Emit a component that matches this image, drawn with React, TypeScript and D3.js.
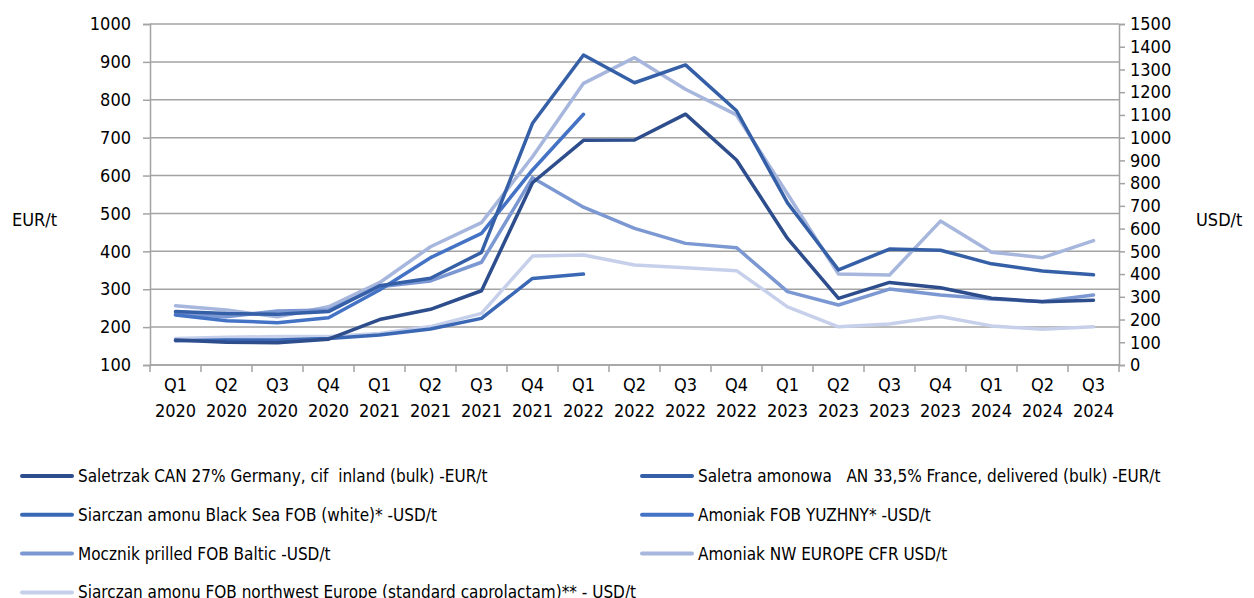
import React, { useEffect, useRef } from 'react';
import * as d3 from 'd3';

const quarters = ['Q1', 'Q2', 'Q3', 'Q4', 'Q1', 'Q2', 'Q3', 'Q4', 'Q1', 'Q2', 'Q3', 'Q4', 'Q1', 'Q2', 'Q3', 'Q4', 'Q1', 'Q2', 'Q3'];
const years = ['2020', '2020', '2020', '2020', '2021', '2021', '2021', '2021', '2022', '2022', '2022', '2022', '2023', '2023', '2023', '2023', '2024', '2024', '2024'];

// EUR/t, left axis
const canGermany = [166, 160, 159, 168, 220, 247, 296, 581, 693, 694, 762, 641, 434, 276, 318, 304, 276, 267, 271];
const anFrance = [241, 236, 234, 241, 309, 329, 397, 738, 918, 845, 892, 771, 528, 351, 406, 403, 367, 348, 338];
// USD/t, right axis
const asBlackSea = [107, 110, 110, 117, 132, 158, 205, 381, 400];
const nh3Yuzhny = [220, 195, 186, 208, 330, 472, 579, 858, 1103];
const ureaBaltic = [224, 212, 238, 242, 344, 370, 452, 824, 694, 601, 535, 516, 323, 264, 334, 308, 290, 279, 308];
const nh3NwEurope = [261, 242, 212, 256, 362, 520, 626, 916, 1239, 1352, 1213, 1100, 752, 400, 396, 633, 496, 472, 547];
const asNwEurope = [117, 122, 125, 125, 139, 169, 227, 479, 484, 440, 428, 415, 256, 168, 180, 213, 172, 157, 168];

const leftTicks = [100, 200, 300, 400, 500, 600, 700, 800, 900, 1000];
const rightTicks = [0, 100, 200, 300, 400, 500, 600, 700, 800, 900, 1000, 1100, 1200, 1300, 1400, 1500];

const series = [
  { name: 'Saletrzak CAN 27% Germany, cif  inland (bulk) -EUR/t', values: canGermany, axis: 'left', color: '#2d4d8c' },
  { name: 'Saletra amonowa   AN 33,5% France, delivered (bulk) -EUR/t', values: anFrance, axis: 'left', color: '#355fa6' },
  { name: 'Siarczan amonu Black Sea FOB (white)* -USD/t', values: asBlackSea, axis: 'right', color: '#3b68b5' },
  { name: 'Amoniak FOB YUZHNY* -USD/t', values: nh3Yuzhny, axis: 'right', color: '#4473c5' },
  { name: 'Mocznik prilled FOB Baltic -USD/t', values: ureaBaltic, axis: 'right', color: '#7c98d2' },
  { name: 'Amoniak NW EUROPE CFR USD/t', values: nh3NwEurope, axis: 'right', color: '#a6b6dd' },
  { name: 'Siarczan amonu FOB northwest Europe (standard caprolactam)** - USD/t', values: asNwEurope, axis: 'right', color: '#c6d0ea' },
];

const FONT = '"DejaVu Sans Condensed", "DejaVu Sans", sans-serif';

const Chart = ({ width, height }: { width: number; height: number }) => {
  const ref = useRef<SVGSVGElement>(null);

  useEffect(() => {
    if (!ref.current) return;
    const svg = d3.select(ref.current);
    svg.selectAll('*').remove();

    const left = 150, right = 1119, top = 24, bottom = 365;
    const cats = quarters.map((q, i) => `${q} ${years[i]}`);

    const x = d3.scaleBand().domain(cats).range([left, right]);
    const yL = d3.scaleLinear().domain([100, 1000]).range([bottom, top]);
    const yR = d3.scaleLinear().domain([0, 1500]).range([bottom, top]);

    // gridlines
    svg.append('g')
      .selectAll('line')
      .data(leftTicks)
      .join('line')
      .attr('x1', left).attr('x2', right)
      .attr('y1', d => yL(d)).attr('y2', d => yL(d))
      .attr('stroke', '#a3a3a3').attr('stroke-width', 1.5);

    // left axis
    const gl = svg.append('g').attr('transform', `translate(${left},0)`)
      .call(d3.axisLeft(yL).tickValues(leftTicks).tickFormat(d3.format('d')).tickSize(7).tickPadding(12));
    gl.select('.domain').attr('stroke', '#a3a3a3').attr('stroke-width', 1.5);
    gl.selectAll('.tick line').attr('stroke', '#a3a3a3').attr('stroke-width', 1.5);
    gl.selectAll('text').style('font-size', '18px').style('font-family', FONT).attr('fill', '#000');

    // right axis
    const gr = svg.append('g').attr('transform', `translate(${right},0)`)
      .call(d3.axisRight(yR).tickValues(rightTicks).tickFormat(d3.format('d')).tickSize(6).tickPadding(5));
    gr.select('.domain').attr('stroke', '#a3a3a3').attr('stroke-width', 1.5);
    gr.selectAll('.tick line').attr('stroke', '#a3a3a3').attr('stroke-width', 1.5);
    gr.selectAll('text').style('font-size', '18px').style('font-family', FONT).attr('fill', '#000');

    // bottom axis: ticks at band boundaries
    svg.append('line')
      .attr('x1', left).attr('x2', right).attr('y1', bottom).attr('y2', bottom)
      .attr('stroke', '#a3a3a3').attr('stroke-width', 1.5);
    const bounds = cats.map(c => x(c) as number).concat([right]);
    svg.append('g')
      .selectAll('line')
      .data(bounds)
      .join('line')
      .attr('x1', d => d).attr('x2', d => d)
      .attr('y1', bottom).attr('y2', bottom + 7)
      .attr('stroke', '#a3a3a3').attr('stroke-width', 1.5);

    const xl = svg.append('g')
      .selectAll('text')
      .data(cats)
      .join('text')
      .attr('text-anchor', 'middle')
      .style('font-size', '18px').style('font-family', FONT).attr('fill', '#000');
    xl.append('tspan').attr('x', d => (x(d) as number) + x.bandwidth() / 2).attr('y', 391).text((d, i) => quarters[i]);
    xl.append('tspan').attr('x', d => (x(d) as number) + x.bandwidth() / 2).attr('y', 417).text((d, i) => years[i]);

    // axis titles
    svg.append('text').attr('x', 12).attr('y', 219).attr('dominant-baseline', 'central')
      .style('font-size', '18px').style('font-family', FONT).text('EUR/t');
    svg.append('text').attr('x', 1196).attr('y', 219).attr('dominant-baseline', 'central')
      .style('font-size', '18px').style('font-family', FONT).text('USD/t');

    // lines, drawn lightest first so darker ones sit on top
    [...series].reverse().forEach(s => {
      const yy = s.axis === 'left' ? yL : yR;
      const line = d3.line<number>()
        .x((d, i) => (x(cats[i]) as number) + x.bandwidth() / 2)
        .y(d => yy(d));
      svg.append('path')
        .datum(s.values)
        .attr('d', line)
        .attr('fill', 'none')
        .attr('stroke', s.color)
        .attr('stroke-width', 3.5)
        .attr('stroke-linejoin', 'round')
        .attr('stroke-linecap', 'round');
    });

    // legend
    const lg = svg.append('g');
    series.forEach((s, i) => {
      const col = i % 2;
      const row = Math.floor(i / 2);
      const lx = col === 0 ? 20 : 640;
      const ly = 476 + row * 38.8;
      lg.append('line')
        .attr('x1', lx + 2).attr('x2', lx + 52).attr('y1', ly).attr('y2', ly)
        .attr('stroke', s.color).attr('stroke-width', 4).attr('stroke-linecap', 'round');
      lg.append('text')
        .attr('x', lx + 58).attr('y', ly).attr('dominant-baseline', 'central')
        .attr('xml:space', 'preserve').style('white-space', 'pre')
        .style('font-size', '17px').style('font-family', FONT).attr('fill', '#000')
        .text(s.name);
    });
  }, [width, height]);

  return <svg ref={ref} width={width} height={height} style={{ position: 'absolute', left: 0, top: 0, background: '#fff' }} />;
};

export default function App() {
  return <Chart width={1254} height={598} />;
}
